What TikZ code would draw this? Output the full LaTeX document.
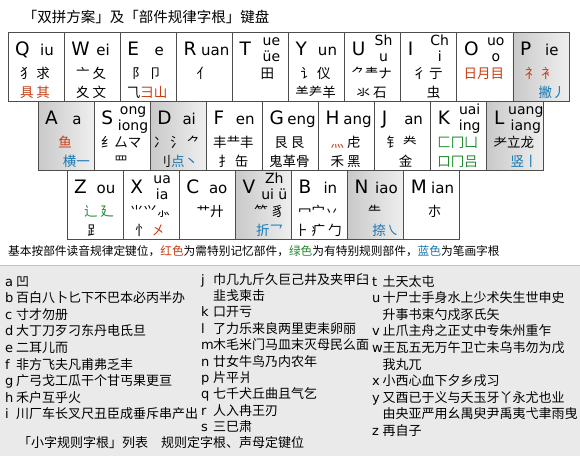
\documentclass[tikz,border=0pt]{standalone}
\usepackage{fontspec}
\setmainfont{Noto Sans CJK SC}
\newfontfamily\latn{DejaVu Sans}
\usepackage{tikz}
\usetikzlibrary{positioning}
\definecolor{KeyBorder}{HTML}{4D4D4D}
\definecolor{KeyGrey}{HTML}{C9C9C9}
\definecolor{MemoRed}{HTML}{C83C14}
\definecolor{RuleGreen}{HTML}{22882E}
\definecolor{StrokeBlue}{HTML}{1677B3}
\definecolor{PanelGrey}{HTML}{EAEAEA}
\definecolor{PanelLine}{HTML}{C4C4C4}

\tikzset{
  keycell/.style={draw=KeyBorder, line width=0.8pt, fill=white, anchor=north west,
    minimum width=56.1pt, minimum height=69pt, inner sep=0pt, outer sep=0pt},
  graykey/.style={left color=KeyGrey, right color=KeyGrey!30!white},
  keyletter/.style={anchor=base west, inner sep=0pt, font=\latn\fontsize{18.5}{18.5}\selectfont},
  keyvowel/.style={anchor=base, inner sep=0pt, font=\latn\fontsize{15}{15.5}\selectfont},
  keyparts/.style={anchor=base, inner sep=0pt, font=\fontsize{13.5}{14}\selectfont},
  strokelbl/.style={anchor=base east, inner sep=0pt, text=StrokeBlue, font=\fontsize{13.5}{14}\selectfont},
  listline/.style={anchor=base west, inner sep=0pt, font=\fontsize{13}{13}\selectfont},
}

\newcommand{\gp}{\hspace{3pt}}
\newcommand{\twoline}[2]{\raisebox{-6pt}{\fontsize{14}{15.5}\selectfont\begin{tabular}[b]{@{}c@{}}#1\\#2\end{tabular}}}
% one key: name, x, y, style, letter, finals, upper parts, lower parts
\newcommand{\kbkey}[8]{%
  \node [keycell, #4] (k#1) at (#2,#3) {};
  \node [keyletter] (l#1) at ([xshift=7pt, yshift=-23pt]k#1.north west) {#5};
  \node [keyvowel] (v#1) at ([xshift=39pt, yshift=-23pt]k#1.north west) {#6};
  \node [keyparts] (u#1) at ([xshift=27pt, yshift=-46pt]k#1.north west) {#7};
  \node [keyparts] (d#1) at ([xshift=27pt, yshift=-65pt]k#1.north west) {#8};
}

\begin{document}
\begin{tikzpicture}[x=1pt, y=-1pt]
    \useasboundingbox (0,0) rectangle (580,456);
    \fill [white] (0,0) rectangle (580,265);
    \fill [PanelGrey] (0,265) rectangle (580,456);
    \draw [PanelLine] (0,265) -- (580,265);

    \node [anchor=base, inner sep=0pt, font=\fontsize{14.5}{15}\selectfont] (title) at (146,22)
        {「双拼方案」及「部件规律字根」键盘};

    % top row
    \kbkey{Q}{8}{32}{}{Q}{iu}{犭\gp 求}{\textcolor{MemoRed}{具\gp 其}}
    \kbkey{W}{64.1}{32}{}{W}{ei}{亠\gp 夂}{夊\gp 文}
    \kbkey{E}{120.2}{32}{}{E}{e}{阝\gp 卩}{⺄\textcolor{MemoRed}{彐山}}
    \kbkey{R}{176.3}{32}{}{R}{uan}{亻}{}
    \kbkey{T}{232.4}{32}{}{T}{\twoline{ue}{üe}}{\hspace*{16pt}田}{}
    \kbkey{Y}{288.5}{32}{}{Y}{un}{讠\gp 仪}{⺷⺶羊}
    \kbkey{U}{344.6}{32}{}{U}{\twoline{Sh}{u}}{⺈龶ナ}{氺\gp 石}
    \kbkey{I}{400.7}{32}{}{I}{\twoline{Ch}{i}}{彳\gp 亍}{\hspace*{12pt}虫}
    \kbkey{O}{456.8}{32}{}{O}{\twoline{uo}{o}}{\textcolor{MemoRed}{日月目}}{}
    \kbkey{P}{512.9}{32}{graykey}{P}{ie}{\textcolor{MemoRed}{礻\gp 衤}}{}
    \node [strokelbl] (sP) at ([xshift=53pt, yshift=-65pt]kP.north west) {撇丿};

    % middle row
    \kbkey{A}{38}{101}{graykey}{A}{a}{\textcolor{MemoRed}{鱼}}{}
    \node [strokelbl] (sA) at ([xshift=52pt, yshift=-65pt]kA.north west) {横一};
    \kbkey{S}{94.1}{101}{}{S}{\twoline{ong}{iong}}{纟厶マ}{罒}
    \kbkey{D}{150.2}{101}{graykey}{D}{ai}{冫\gp 氵\gp ⺈}{}
    \node [strokelbl, text=black] (sD) at ([xshift=48pt, yshift=-65pt]kD.north west)
        {刂\textcolor{StrokeBlue}{点丶}};
    \kbkey{F}{206.3}{101}{}{F}{en}{丰龷丰}{扌\gp 缶}
    \kbkey{G}{262.4}{101}{}{G}{eng}{艮\gp ⾉}{鬼革骨}
    \kbkey{H}{318.5}{101}{}{H}{ang}{\textcolor{MemoRed}{灬}\gp 虍}{禾\gp 黑}
    \kbkey{J}{374.6}{101}{}{J}{an}{钅\gp 龹}{\hspace*{8pt}金}
    \kbkey{K}{430.7}{101}{}{K}{\twoline{uai}{ing}}{\textcolor{RuleGreen}{匚冂凵}}{\textcolor{RuleGreen}{口冂吕}}
    \kbkey{L}{486.8}{101}{graykey}{L}{\twoline{uang}{iang}}{耂立龙}{}
    \node [strokelbl] (sL) at ([xshift=51pt, yshift=-65pt]kL.north west) {竖丨};

    % bottom row
    \kbkey{Z}{67}{170}{}{Z}{ou}{\hspace*{10pt}\textcolor{RuleGreen}{辶\gp 廴}}{⻊}
    \kbkey{X}{123.1}{170}{}{X}{\twoline{ua}{ia}}{⺌⺍⺗}{忄\gp\textcolor{MemoRed}{㐅}}
    \kbkey{C}{179.2}{170}{}{C}{ao}{\hspace*{8pt}艹廾}{}
    \kbkey{V}{235.3}{170}{graykey}{V}{\twoline{Zh}{ui ü}}{\hspace*{14pt}⺮\gp 豸}{}
    \node [strokelbl] (sV) at ([xshift=48pt, yshift=-65pt]kV.north west) {折乛};
    \kbkey{B}{291.4}{170}{}{B}{in}{冖宀丷}{⺊\gp 疒\gp 勹}
    \kbkey{N}{347.5}{170}{graykey}{N}{iao}{⺧}{}
    \node [strokelbl] (sN) at ([xshift=52pt, yshift=-65pt]kN.north west) {捺㇏};
    \kbkey{M}{403.6}{170}{}{M}{ian}{\hspace*{8pt}朩}{}

    \node [anchor=base west, inner sep=0pt, font=\fontsize{11.7}{12}\selectfont] (note) at (8,255)
        {基本按部件读音规律定键位，\textcolor{MemoRed}{红色}为需特别记忆部件，\textcolor{RuleGreen}{绿色}为有特别规则部件，\textcolor{StrokeBlue}{蓝色}为笔画字根};

    % small-character root lists
    \foreach \ltr/\chars [count=\n from 0] in {a/凹, b/百白八卜匕下不巴本必丙半办, c/寸才勿册,
        d/大丁刀歹刁东丹电氐旦, e/二耳儿而, f/非方飞夫凡甫弗乏丰,
        g/广弓戈工瓜干个甘丐果更亘, h/禾户互乎火, i/川厂车长叉尺丑臣成垂斥串产出}
        \node [listline] (ra\n) at (5,{286+16.6*\n}) {\makebox[11pt][l]{\latn\ltr}\chars};
    \foreach \ltr/\chars [count=\n from 0] in {j/巾几九斤久巨己井及夹甲臼, /韭戋柬击, k/口开亏,
        l/了力乐来良两里吏耒卵丽, m/木毛米门马皿末灭母民么面, n/廿女牛鸟乃内农年,
        p/片平爿, q/七千犬丘曲且气乞, r/人入冉王刃, s/三巳肃}
        \node [listline] (rb\n) at (201,{284+16.4*\n}) {\makebox[12pt][l]{\latn\ltr}\chars};
    \foreach \ltr/\chars [count=\n from 0] in {t/土天太屯, u/十尸士手身水上少术失生世申史,
        /升事书束勺戍豕氏矢, v/止爪主舟之正丈中专朱州重乍, w/王瓦五无万午卫亡未乌韦勿为戊,
        /我丸兀, x/小西心血下夕乡戌习, y/又酉已于义与夭玉牙丫永尤也业,
        /由央亚严用幺禺臾尹禹夷弋聿雨曳, z/再自子}
        \node [listline] (rc\n) at (372,{286+16.6*\n}) {\makebox[10.5pt][l]{\latn\ltr}\chars};

    \node [listline] (foot) at (18,447.5) {「小字规则字根」列表\hspace{13pt}规则定字根、声母定键位};
\end{tikzpicture}
\end{document}
